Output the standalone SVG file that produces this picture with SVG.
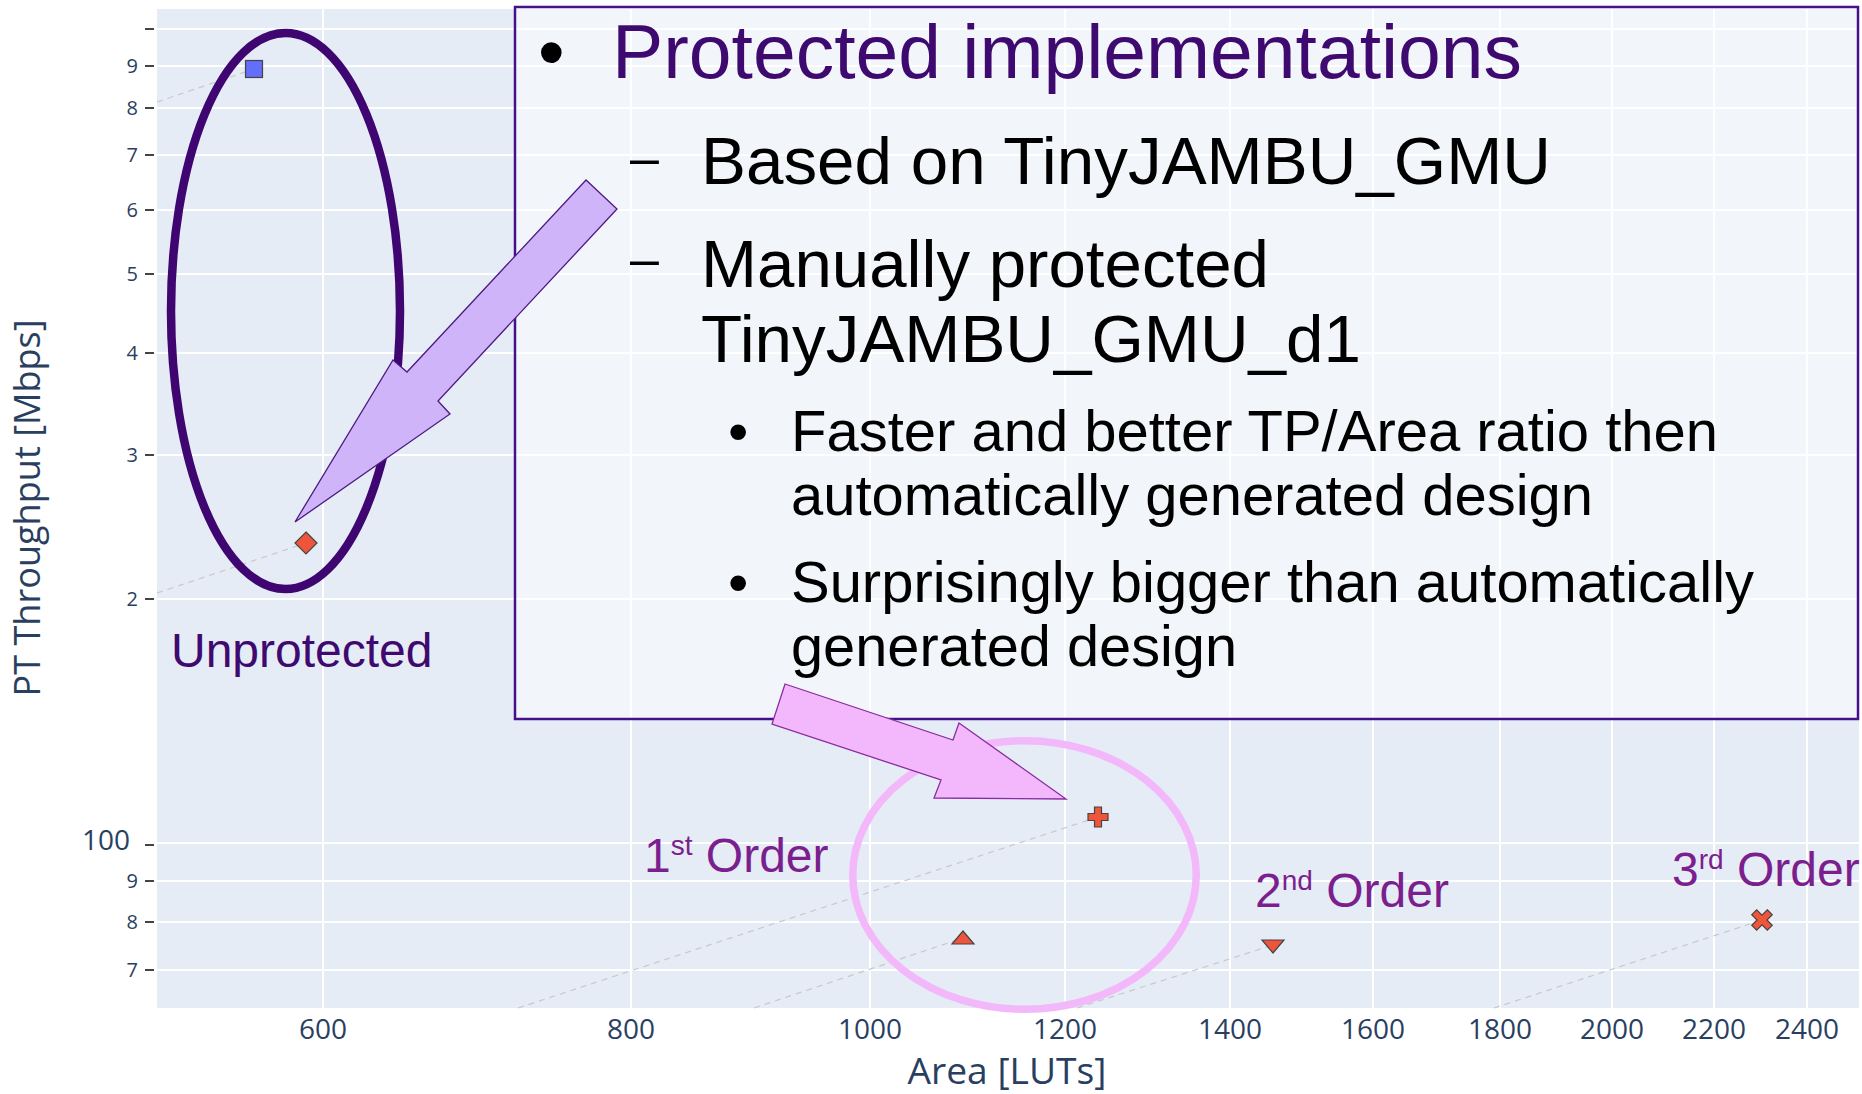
<svg xmlns="http://www.w3.org/2000/svg" width="1862" height="1094" viewBox="0 0 1862 1094">
<style>
.grid{stroke:#ffffff;stroke-width:2;fill:none}
.tick{stroke:#444444;stroke-width:2}
.tl{font-family:"Open Sans","DejaVu Sans",sans-serif;font-size:20px;fill:#2a3f5f;text-anchor:end}
.xl{font-family:"Open Sans","DejaVu Sans",sans-serif;font-size:28px;fill:#2a3f5f;text-anchor:middle}
.ttl{font-family:"Open Sans","DejaVu Sans",sans-serif;font-size:36px;fill:#2a3f5f;text-anchor:middle}
.trend{stroke:#c8c8cc;stroke-width:1.2;stroke-dasharray:6,5;fill:none}
.mk{stroke:#444444;stroke-width:1.2}
.red{fill:#ef553b}
.lib{font-family:"Liberation Sans",Arial,sans-serif}
.ord{font-family:"Liberation Sans",Arial,sans-serif;font-size:48px;fill:#7b1f8e}
.blk{font-family:"Liberation Sans",Arial,sans-serif;fill:#000000}
</style>
<rect x="0" y="0" width="1862" height="1094" fill="#ffffff"/>
<g id="plot-area">
<rect x="157" y="9" width="1702" height="999" fill="#e5ecf6"/>
<g class="grid">
<line x1="323" y1="9" x2="323" y2="1008"/>
<line x1="631" y1="9" x2="631" y2="1008"/>
<line x1="870" y1="9" x2="870" y2="1008"/>
<line x1="1065" y1="9" x2="1065" y2="1008"/>
<line x1="1230" y1="9" x2="1230" y2="1008"/>
<line x1="1373" y1="9" x2="1373" y2="1008"/>
<line x1="1500" y1="9" x2="1500" y2="1008"/>
<line x1="1612" y1="9" x2="1612" y2="1008"/>
<line x1="1714" y1="9" x2="1714" y2="1008"/>
<line x1="1807" y1="9" x2="1807" y2="1008"/>
<line x1="157" y1="29" x2="1859" y2="29"/>
<line x1="157" y1="66" x2="1859" y2="66"/>
<line x1="157" y1="108" x2="1859" y2="108"/>
<line x1="157" y1="155" x2="1859" y2="155"/>
<line x1="157" y1="210" x2="1859" y2="210"/>
<line x1="157" y1="274" x2="1859" y2="274"/>
<line x1="157" y1="353" x2="1859" y2="353"/>
<line x1="157" y1="455" x2="1859" y2="455"/>
<line x1="157" y1="599" x2="1859" y2="599"/>
<line x1="157" y1="843" x2="1859" y2="843"/>
<line x1="157" y1="881" x2="1859" y2="881"/>
<line x1="157" y1="922" x2="1859" y2="922"/>
<line x1="157" y1="970" x2="1859" y2="970"/>
</g>
</g>
<g id="y-axis">
<g class="tick">
<line x1="145" y1="29" x2="154" y2="29"/>
<line x1="145" y1="66" x2="154" y2="66"/>
<line x1="145" y1="108" x2="154" y2="108"/>
<line x1="145" y1="155" x2="154" y2="155"/>
<line x1="145" y1="210" x2="154" y2="210"/>
<line x1="145" y1="274" x2="154" y2="274"/>
<line x1="145" y1="353" x2="154" y2="353"/>
<line x1="145" y1="455" x2="154" y2="455"/>
<line x1="145" y1="599" x2="154" y2="599"/>
<line x1="145" y1="845" x2="154" y2="845"/>
<line x1="145" y1="881" x2="154" y2="881"/>
<line x1="145" y1="922" x2="154" y2="922"/>
<line x1="145" y1="970" x2="154" y2="970"/>
</g>
<text class="tl" x="138" y="73">9</text>
<text class="tl" x="138" y="115">8</text>
<text class="tl" x="138" y="162">7</text>
<text class="tl" x="138" y="217">6</text>
<text class="tl" x="138" y="281">5</text>
<text class="tl" x="138" y="360">4</text>
<text class="tl" x="138" y="462">3</text>
<text class="tl" x="138" y="606">2</text>
<text class="tl" x="130" y="850" style="font-size:28px">100</text>
<text class="tl" x="138" y="888">9</text>
<text class="tl" x="138" y="929">8</text>
<text class="tl" x="138" y="977">7</text>
<text class="ttl" transform="translate(40,508) rotate(-90)" textLength="377" lengthAdjust="spacingAndGlyphs">PT Throughput [Mbps]</text>
</g>
<g id="x-axis">
<text class="xl" x="323" y="1039">600</text>
<text class="xl" x="631" y="1039">800</text>
<text class="xl" x="870" y="1039">1000</text>
<text class="xl" x="1065" y="1039">1200</text>
<text class="xl" x="1230" y="1039">1400</text>
<text class="xl" x="1373" y="1039">1600</text>
<text class="xl" x="1500" y="1039">1800</text>
<text class="xl" x="1612" y="1039">2000</text>
<text class="xl" x="1714" y="1039">2200</text>
<text class="xl" x="1807" y="1039">2400</text>
<text class="ttl" x="1007" y="1084" textLength="199" lengthAdjust="spacingAndGlyphs">Area [LUTs]</text>
</g>
<g id="connectors">
<line class="trend" x1="157" y1="102" x2="254" y2="69"/>
<line class="trend" x1="157" y1="593" x2="306" y2="543"/>
<line class="trend" x1="518" y1="1008" x2="1098" y2="817"/>
<line class="trend" x1="754" y1="1008" x2="963" y2="938"/>
<line class="trend" x1="1077" y1="1008" x2="1273" y2="945"/>
<line class="trend" x1="1494" y1="1008" x2="1762" y2="920"/>
</g>
<g id="marker-unprotected-square">
<rect class="mk" x="245.5" y="60.5" width="17" height="17" fill="#636efa"/>
</g>
<g id="marker-unprotected-diamond">
<polygon class="mk red" points="306,532 317,543 306,554 295,543"/>
</g>
<g id="marker-plus">
<polygon class="mk red" points="1094.5,807 1101.5,807 1101.5,813.5 1108,813.5 1108,820.5 1101.5,820.5 1101.5,827 1094.5,827 1094.5,820.5 1088,820.5 1088,813.5 1094.5,813.5"/>
</g>
<g id="marker-triangle-up">
<polygon class="mk red" points="963,931 974,944 952,944"/>
</g>
<g id="marker-triangle-down">
<polygon class="mk red" points="1262,940 1284,940 1273,953"/>
</g>
<g id="marker-x">
<polygon class="mk red" transform="translate(1762,920) rotate(45)" points="-3.5,-11 3.5,-11 3.5,-3.5 11,-3.5 11,3.5 3.5,3.5 3.5,11 -3.5,11 -3.5,3.5 -11,3.5 -11,-3.5 -3.5,-3.5"/>
</g>
<g id="ellipse-unprotected">
<ellipse cx="285.5" cy="311" rx="114.5" ry="278" fill="none" stroke="#3f0571" stroke-width="8.5"/>
</g>
<g id="ellipse-first-order">
<ellipse cx="1024.5" cy="875" rx="171.75" ry="134.25" fill="none" stroke="#f3b8fa" stroke-width="7.5"/>
</g>
<g id="label-unprotected">
<text class="lib" x="171" y="667" font-size="48" fill="#3f0a70">Unprotected</text>
</g>
<g id="label-first-order">
<text class="ord" x="644" y="872">1<tspan dy="-17" font-size="28">st</tspan><tspan dy="17"> Order</tspan></text>
</g>
<g id="label-second-order">
<text class="ord" x="1255" y="907">2<tspan dy="-17" font-size="28">nd</tspan><tspan dy="17"> Order</tspan></text>
</g>
<g id="label-third-order">
<text class="ord" x="1672" y="886">3<tspan dy="-17" font-size="28">rd</tspan><tspan dy="17"> Order</tspan></text>
</g>
<g id="text-box">
<rect x="515" y="7" width="1343" height="712" fill="#ffffff" fill-opacity="0.5" stroke="#47108a" stroke-width="2.5"/>
<text class="blk" x="538" y="78" font-size="76">•</text>
<text class="lib" x="612" y="78" font-size="76" fill="#3f0a70" textLength="910" lengthAdjust="spacingAndGlyphs">Protected implementations</text>
<text class="blk" x="630" y="175" font-size="52">–</text>
<text class="blk" x="701" y="184" font-size="66" textLength="850" lengthAdjust="spacingAndGlyphs">Based on TinyJAMBU_GMU</text>
<text class="blk" x="630" y="276" font-size="52">–</text>
<text class="blk" x="701" y="287" font-size="66" textLength="568" lengthAdjust="spacingAndGlyphs">Manually protected</text>
<text class="blk" x="701" y="362" font-size="66" textLength="660" lengthAdjust="spacingAndGlyphs">TinyJAMBU_GMU_d1</text>
<text class="blk" x="728" y="451" font-size="58">•</text>
<text class="blk" x="791" y="451" font-size="58" textLength="927" lengthAdjust="spacingAndGlyphs">Faster and better TP/Area ratio then</text>
<text class="blk" x="791" y="515" font-size="58" textLength="802" lengthAdjust="spacingAndGlyphs">automatically generated design</text>
<text class="blk" x="728" y="602" font-size="58">•</text>
<text class="blk" x="791" y="602" font-size="58" textLength="963" lengthAdjust="spacingAndGlyphs">Surprisingly bigger than automatically</text>
<text class="blk" x="791" y="666" font-size="58" textLength="446" lengthAdjust="spacingAndGlyphs">generated design</text>
</g>
<g id="arrow-unprotected">
<polygon points="586,180 407,372 393,360 295,522 450,414 438,401 617,209" fill="#d0b4fa" stroke="#4b1a80" stroke-width="1.3" stroke-linejoin="miter"/>
</g>
<g id="arrow-first-order">
<polygon points="785,684 953,740 959,723 1066,799 934,798 941,780 772,724" fill="#f3b8fb" stroke="#8a2ba0" stroke-width="1.3"/>
</g>
</svg>
